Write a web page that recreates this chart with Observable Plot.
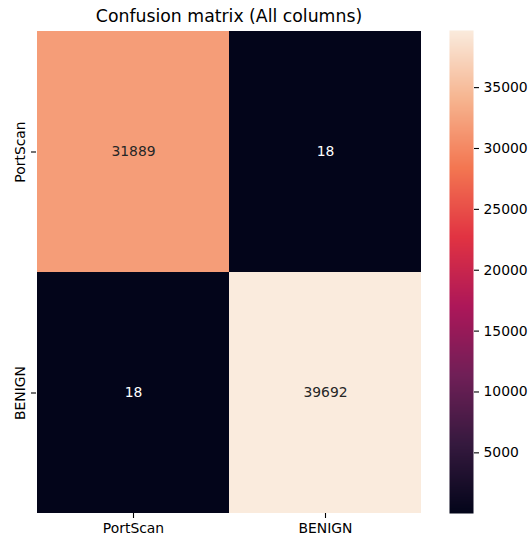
<!DOCTYPE html>
<html>
<head>
<meta charset="utf-8">
<script src="https://cdn.jsdelivr.net/npm/d3@7"></script>
<script src="https://cdn.jsdelivr.net/npm/@observablehq/plot@0.6"></script>
<style>
  html, body { margin: 0; padding: 0; background: white; }
  #wrap { position: relative; width: 528px; height: 543px; }
  #wrap svg { position: absolute; left: 0; top: 0; font-family: "DejaVu Sans", sans-serif; }
</style>
</head>
<body>
<div id="wrap"></div>
<script>
const title = "Confusion matrix (All columns)";
const classes = ["PortScan", "BENIGN"];
const rowPortScan = [31889, 18];
const rowBENIGN = [18, 39692];
const colorbarTicks = [5000, 10000, 15000, 20000, 25000, 30000, 35000];
const rocketStops = ["#03051a", "#35193e", "#701f57", "#ad1759", "#e13342", "#f37651", "#f6b48f", "#faebdd"];

const rows = [rowPortScan, rowBENIGN];
const cells = [];
rows.forEach((r, i) => r.forEach((v, j) => cells.push({actual: classes[i], predicted: classes[j], value: v})));
const vmin = d3.min(cells, d => d.value);
const vmax = d3.max(cells, d => d.value);
const rocket = d3.piecewise(d3.interpolateRgb, rocketStops);
const interp = t => rocket(t);
const colorOpts = {type: "linear", domain: [vmin, vmax], interpolate: interp};
const textColor = v => {
  const c = d3.rgb(rocket((v - vmin) / (vmax - vmin)));
  const lin = x => { x /= 255; return x <= 0.03928 ? x / 12.92 : Math.pow((x + 0.055) / 1.055, 2.4); };
  const L = 0.2126 * lin(c.r) + 0.7152 * lin(c.g) + 0.0722 * lin(c.b);
  return L > 0.408 ? "#262626" : "#ffffff";
};
const fs = 13.9;

const main = Plot.plot({
  width: 528, height: 543,
  marginLeft: 36, marginRight: 107, marginTop: 30, marginBottom: 30,
  style: {fontFamily: "DejaVu Sans, sans-serif", background: "transparent"},
  x: {type: "band", domain: classes, padding: 0, label: null},
  y: {type: "band", domain: classes, padding: 0, label: null},
  color: colorOpts,
  marks: [
    Plot.cell(cells, {x: "predicted", y: "actual", fill: "value", inset: 0, shapeRendering: "crispEdges"}),
    Plot.text(cells, {x: "predicted", y: "actual", text: d => String(d.value), fill: d => textColor(d.value), fontSize: fs}),
    Plot.axisX({anchor: "bottom", tickSize: 5, tickPadding: 5, fontSize: fs, label: null, stroke: "black", strokeWidth: 1.1, fill: "black"}),
    Plot.axisY({anchor: "left", tickSize: 5, tickFormat: () => "", label: null, stroke: "black", strokeWidth: 1.1}),
    Plot.text(classes, {y: d => d, frameAnchor: "left", dx: -11.5, rotate: -90, textAnchor: "middle", lineAnchor: "bottom", fontSize: fs, fill: "black"}),
    Plot.text([title], {frameAnchor: "top", dy: -9, lineAnchor: "bottom", fontSize: 17.3, fill: "black"})
  ]
});

const bar = Plot.plot({
  width: 528, height: 543,
  marginLeft: 449, marginRight: 55, marginTop: 30, marginBottom: 30,
  style: {fontFamily: "DejaVu Sans, sans-serif", background: "transparent"},
  x: {domain: [0, 1], axis: null},
  y: {domain: [vmin, vmax], label: null},
  color: colorOpts,
  marks: [
    Plot.raster({x1: 0, x2: 1, y1: vmin, y2: vmax, fill: (x, y) => y, pixelSize: 1}),
    Plot.axisY(colorbarTicks, {anchor: "right", tickSize: 5, tickPadding: 5, tickFormat: d => String(d), fontSize: fs, label: null, stroke: "black", strokeWidth: 1.1, fill: "black"})
  ]
});

const wrap = document.getElementById("wrap");
wrap.appendChild(main);
wrap.appendChild(bar);
</script>
</body>
</html>
